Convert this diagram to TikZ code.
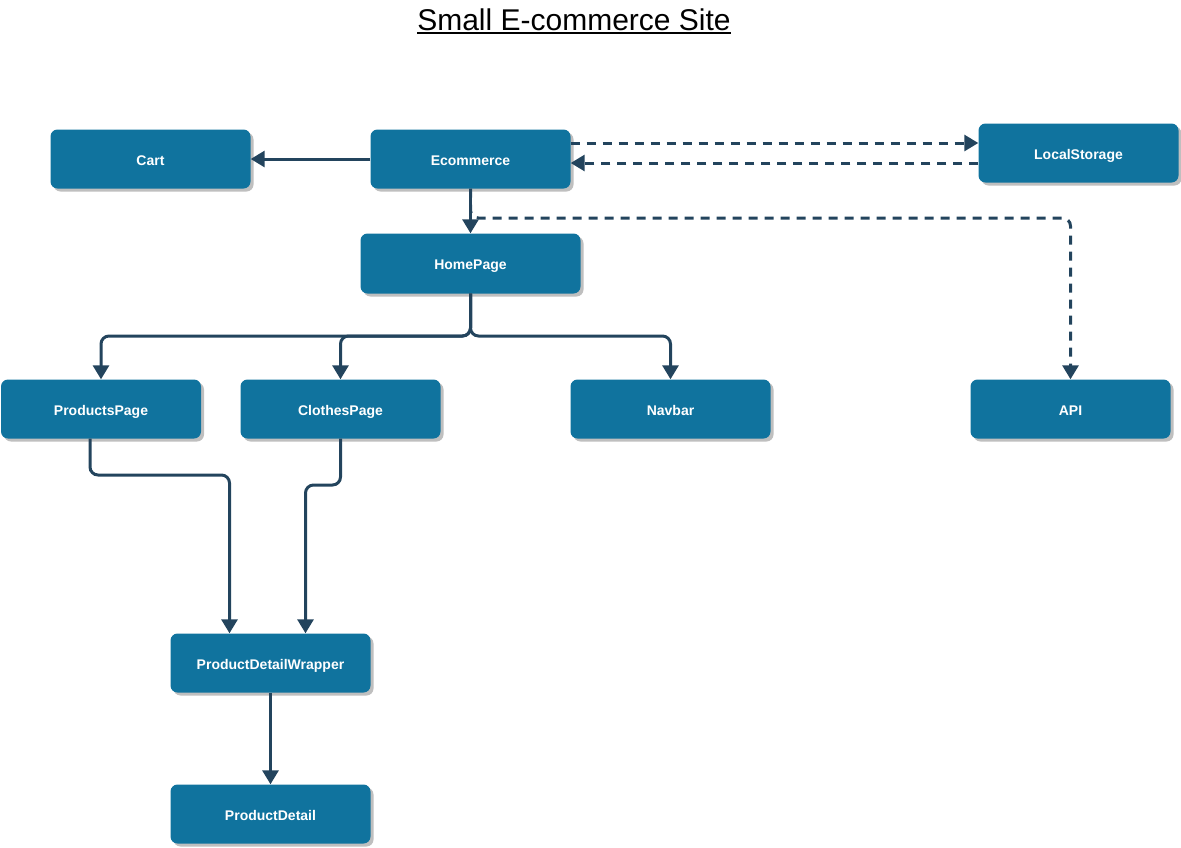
\documentclass[tikz,border=0pt]{standalone}
\usepackage{fontspec}
\setmainfont{Liberation Sans}
\usetikzlibrary{arrows.meta,shadows,calc}
\definecolor{boxblue}{HTML}{10739E}
\definecolor{linkc}{HTML}{23445D}
\tikzset{
  box/.style={draw=none, fill=boxblue, rounded corners=7pt, minimum width=200pt, minimum height=59pt, inner sep=0pt,
    text=white, font=\fontsize{14}{16}\selectfont\bfseries, text height=12pt, text depth=0pt,
    drop shadow={shadow xshift=3pt, shadow yshift=-3pt, fill=black, opacity=0.25}},
  link/.style={draw=linkc, line width=3pt, -{Triangle[length=14pt,width=16pt]}, rounded corners=8pt},
  dlink/.style={link, dash pattern=on 9pt off 7pt},
}
\begin{document}
\begin{tikzpicture}[x=1pt,y=-1pt]
\useasboundingbox (0,0) rectangle (1181,847);
\node[anchor=base, inner sep=0pt, font=\fontsize{30}{34}\selectfont] (title) at (574,30) {Small E-commerce Site};
\draw[line width=2pt] ([yshift=-3pt]title.base west) -- ([yshift=-3pt]title.base east);

\node[box] (cart) at (150.5,159) {Cart};
\node[box] (ecom) at (470.5,159) {Ecommerce};
\node[box] (ls) at (1078.5,153) {LocalStorage};
\node[box, minimum width=220pt, minimum height=60pt] (home) at (470.5,263.5) {HomePage};
\node[box] (prod) at (101,409) {ProductsPage};
\node[box] (cloth) at (340.5,409) {ClothesPage};
\node[box] (nav) at (670.5,409) {Navbar};
\node[box] (api) at (1070.5,409) {API};
\node[box] (pdw) at (270.5,663) {ProductDetailWrapper};
\node[box] (pd) at (270.5,814) {ProductDetail};

\draw[link] (ecom.west) -- (cart.east);
\draw[dlink] (ecom.east |- 0,143) -- (ls.west |- 0,143);
\draw[dlink] (ls.west |- 0,163) -- (ecom.east |- 0,163);
\draw[dlink] (ecom.south) |- (api.north |- 0,218) -- (api.north);
\draw[link] (ecom.south) -- (home.north);
\draw[link] (home.south) |- (prod.north |- 0,336) -- (prod.north);
\draw[link] (home.south) |- (cloth.north |- 0,336) -- (cloth.north);
\draw[link] (home.south) |- (nav.north |- 0,336) -- (nav.north);
\draw[link] ([xshift=-11pt]prod.south) |- ([xshift=-41pt]pdw.north |- 0,475) -- ([xshift=-41pt]pdw.north);
\draw[link] (cloth.south) |- ([xshift=35pt]pdw.north |- 0,485) -- ([xshift=35pt]pdw.north);
\draw[link] (pdw.south) -- (pd.north);
\end{tikzpicture}
\end{document}
